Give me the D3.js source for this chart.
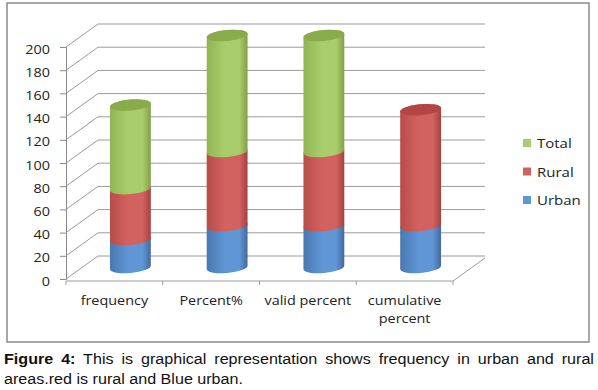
<!DOCTYPE html>
<html>
<head>
<meta charset="utf-8">
<script src="https://cdn.jsdelivr.net/npm/d3@7"></script>
<style>
  body { margin: 0; background: #fff; }
  #wrap { position: relative; width: 598px; height: 390px; }
  svg { position: absolute; left: 0; top: 0; }
  .cap { position: absolute; left: 4px; width: 513px; font-family: "Liberation Sans", Arial, sans-serif;
         font-size: 14px; line-height: 16px; color: #111; white-space: nowrap;
         transform: scaleX(1.15); transform-origin: 0 0; }
  .cap.l1 { text-align: justify; text-align-last: justify; white-space: normal; }
  .cap b { font-weight: bold; }
</style>
</head>
<body>
<div id="wrap"></div>
<script>
// data
var categories = ["frequency", "Percent%", "valid percent", "cumulative percent"];
var urban = [24, 36, 36, 36];
var rural = [44, 64, 64, 100];
var total = [72, 100, 100, 0];
var seriesNames = ["Urban", "Rural", "Total"];
var seriesColors = {
  Urban: ["#4a78b0", "#5e96d6", "#44699c", "#4576b2"],
  Rural: ["#b84c49", "#d2625f", "#a6413f", "#b34643"],
  Total: ["#93b454", "#aacd6b", "#82a046", "#8aab4c"]
};

var W = 598, H = 390;
var dx = 32, dy = -23;   // 3d depth
var rx = 20.5, ry = 5.5, tilt = 5;
var sx = 1.2;            // text looks stretched wide in the original

var wrap = d3.select("#wrap");
var svg = wrap.append("svg").attr("width", W).attr("height", H);

// chart border
svg.append("rect")
  .attr("x", 7).attr("y", 3).attr("width", 582).attr("height", 339)
  .attr("fill", "none").attr("stroke", "#8a8a8a").attr("stroke-width", 1.5);

var x = d3.scaleBand().domain(categories).range([66, 453]);
var y = d3.scaleLinear().domain([0, 200]).range([279, 47]);
var ticks = y.ticks(10);

var table = categories.map(function(c, i) {
  return {cat: c, Urban: urban[i], Rural: rural[i], Total: total[i]};
});
var stacked = d3.stack().keys(seriesNames)(table);

// walls / gridlines
var grid = svg.append("g").attr("stroke", "#9a9a9a").attr("stroke-width", 1);
grid.selectAll(".back").data(ticks).enter().append("line")
  .attr("x1", 66 + dx).attr("x2", 453 + dx)
  .attr("y1", function(d) { return y(d) + dy; })
  .attr("y2", function(d) { return y(d) + dy; });
grid.selectAll(".side").data(ticks).enter().append("line")
  .attr("x1", 66).attr("x2", 66 + dx)
  .attr("y1", function(d) { return y(d); })
  .attr("y2", function(d) { return y(d) + dy; });
// floor
grid.append("line").attr("x1", 66).attr("x2", 453).attr("y1", y(0) + 2).attr("y2", y(0) + 2);
grid.append("line").attr("x1", 453).attr("x2", 453 + dx).attr("y1", y(0) + 2).attr("y2", y(0) + dy + 2);
var bounds = categories.map(function(c) { return x(c); }).concat([x.range()[1]]);
grid.selectAll(".ct").data(bounds).enter().append("line")
  .attr("x1", function(d) { return d; }).attr("x2", function(d) { return d; })
  .attr("y1", y(0) + 2).attr("y2", y(0) + 6);

// y axis
var yAxis = svg.append("g")
  .attr("transform", "translate(66,0)")
  .call(d3.axisLeft(y).tickValues(ticks).tickSize(6));
yAxis.selectAll("path, line").attr("stroke", "#8a8a8a");
yAxis.selectAll("text")
  .attr("x", -16 / sx).attr("dy", "0.5em")
  .attr("transform", "scale(" + sx + ",1)")
  .attr("font-family", "'Open Sans', sans-serif").attr("font-size", 12).attr("fill", "#222");

// gradients
var defs = svg.append("defs");
seriesNames.forEach(function(s) {
  var g = defs.append("linearGradient").attr("id", "g" + s)
    .attr("x1", 0).attr("x2", 1).attr("y1", 0).attr("y2", 0);
  g.append("stop").attr("offset", "0%").attr("stop-color", seriesColors[s][0]);
  g.append("stop").attr("offset", "45%").attr("stop-color", seriesColors[s][1]);
  g.append("stop").attr("offset", "80%").attr("stop-color", seriesColors[s][1]);
  g.append("stop").attr("offset", "100%").attr("stop-color", seriesColors[s][2]);
});

var th = tilt * Math.PI / 180, co = Math.cos(th), si = Math.sin(th);
function cx(c) { return x(c) + x.bandwidth() / 2 + dx / 2; }
function segPath(c, v0, v1) {
  var xc = cx(c), yb = y(v0) + dy / 2, yt = y(v1) + dy / 2;
  var lx = xc - rx * co, rxp = xc + rx * co;
  return "M" + lx + "," + (yt + rx * si) +
    "L" + lx + "," + (yb + rx * si) +
    "A" + rx + "," + ry + " " + (-tilt) + " 0 0 " + rxp + "," + (yb - rx * si) +
    "L" + rxp + "," + (yt - rx * si) +
    "A" + rx + "," + ry + " " + (-tilt) + " 0 0 " + lx + "," + (yt + rx * si) + "Z";
}

// cylinders
var bars = svg.append("g");
stacked.forEach(function(layer) {
  bars.selectAll(".s" + layer.key).data(layer.filter(function(d) { return d[1] > d[0]; }))
    .enter().append("path")
    .attr("d", function(d) { return segPath(d.data.cat, d[0], d[1]); })
    .attr("fill", "url(#g" + layer.key + ")");
});
// top caps
table.forEach(function(row, i) {
  var top = 0, key = null;
  stacked.forEach(function(layer) {
    if (layer[i][1] > layer[i][0]) { top = layer[i][1]; key = layer.key; }
  });
  var xc = cx(row.cat), yt = y(top) + dy / 2;
  bars.append("ellipse")
    .attr("cx", xc).attr("cy", yt).attr("rx", rx).attr("ry", ry)
    .attr("transform", "rotate(" + (-tilt) + "," + xc + "," + yt + ")")
    .attr("fill", seriesColors[key][3]);
});

// category labels
var lab = svg.append("g").attr("font-family", "'Open Sans', sans-serif").attr("font-size", 12)
  .attr("fill", "#222").attr("text-anchor", "middle");
categories.forEach(function(c) {
  var words = c == "cumulative percent" ? ["cumulative", "percent"] : [c];
  var t = lab.append("text")
    .attr("transform", "translate(" + (x(c) + x.bandwidth() / 2) + ",305) scale(" + sx + ",1)");
  words.forEach(function(w, k) {
    t.append("tspan").attr("x", 0).attr("dy", k ? 18 : 0).text(w);
  });
});

// legend
var leg = svg.append("g").selectAll("g").data(seriesNames.slice().reverse()).enter().append("g")
  .attr("transform", function(d, i) { return "translate(523," + (143 + i * 28.5) + ")"; });
leg.append("rect").attr("x", 0).attr("y", -4).attr("width", 8).attr("height", 8)
  .attr("fill", function(d) { return seriesColors[d][1]; });
leg.append("text").attr("transform", "translate(14,5) scale(" + sx + ",1)")
  .attr("font-family", "'Open Sans', sans-serif").attr("font-size", 12.5).attr("fill", "#222")
  .text(function(d) { return d; });

// caption
wrap.append("div").attr("class", "cap l1").style("top", "351px")
  .html("<b>Figure 4:</b> This is graphical representation shows frequency in urban and rural");
wrap.append("div").attr("class", "cap").style("top", "371px")
  .text("areas.red is rural and Blue urban.");
</script>
</body>
</html>
